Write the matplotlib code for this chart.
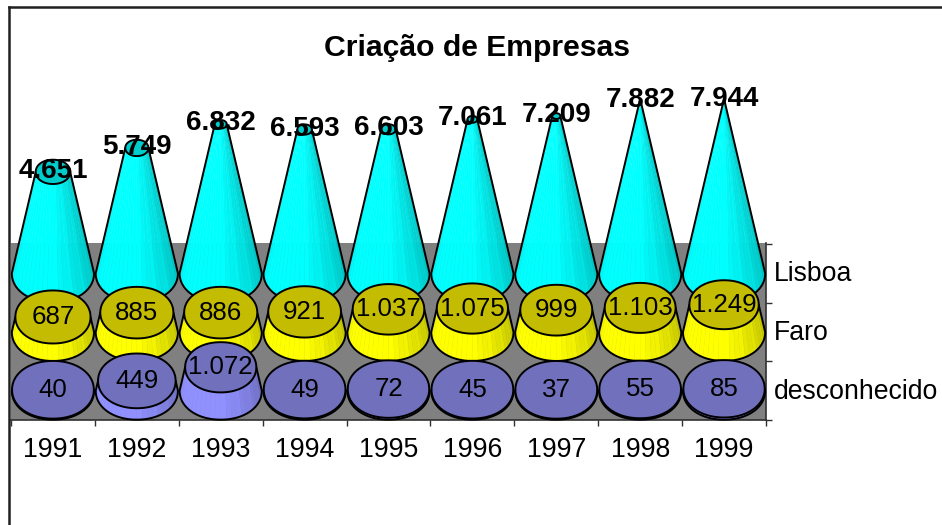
import numpy as np
from matplotlib import pyplot as plt
from matplotlib.colors import to_rgb
from matplotlib.lines import Line2D
from matplotlib.patches import Polygon

plt.rcParams['font.family'] = ['Liberation Sans', 'DejaVu Sans']

years = ['1991', '1992', '1993', '1994', '1995', '1996', '1997', '1998', '1999']
rows = ['desconhecido', 'Faro', 'Lisboa']
lisboa = [4651, 5749, 6832, 6593, 6603, 7061, 7209, 7882, 7944]
faro = [687, 885, 886, 921, 1037, 1075, 999, 1103, 1249]
desconhecido = [40, 449, 1072, 49, 72, 45, 37, 55, 85]
labels_lisboa = ['4.651', '5.749', '6.832', '6.593', '6.603', '7.061', '7.209', '7.882', '7.944']
labels_faro = ['687', '885', '886', '921', '1.037', '1.075', '999', '1.103', '1.249']
labels_desc = ['40', '449', '1.072', '49', '72', '45', '37', '55', '85']

W, H = 942, 525
VMAX = 8000
PX_PER_UNIT = 0.0218
ROW_PX = 58.7
RX = 0.49    # base radius in x categories
RY = 29 / PX_PER_UNIT  # base radius in value units
ROW_H = ROW_PX / PX_PER_UNIT

fig = plt.figure(figsize=(W / 100, H / 100), dpi=100)

# floor of the chart, x in categories, y in value units
ax = fig.add_axes([11 / W, 1 - 420 / H, 755 / W, 177 / H])
ax.set_xlim(0, len(years))
ax.set_ylim(0, 177 / PX_PER_UNIT)
ax.set_facecolor('#808080')
for s in ['left', 'top']:
    ax.spines[s].set_visible(False)
for s in ['right', 'bottom']:
    ax.spines[s].set_color('#303030')
    ax.spines[s].set_linewidth(1.2)
ax.yaxis.tick_right()
ax.set_xticks(np.arange(len(years) + 1))
ax.set_yticks(np.arange(4) * ROW_H)
ax.set_xticklabels([])
ax.set_yticklabels([])
ax.tick_params(length=4.5, width=1, color='#303030')


def ring(t, x, y, rx, ry):
    # slightly squared ellipse, the original blobs are not quite round
    p = 2 / 2.08
    c, s = np.cos(t), np.sin(t)
    return np.column_stack([x + rx * np.sign(c) * np.abs(c) ** p, y + ry * np.sign(s) * np.abs(s) ** p])


def shade(color, f):
    return tuple(np.clip(np.array(to_rgb(color)) * f, 0, 1))


def frustum(x, y0, value, side, top):
    frac = value / VMAX
    rx1 = RX * (1 - frac)
    ry1 = RY * (1 - frac)
    y1 = y0 + value
    # side facets, light on the left, darker to the right
    n = 24
    ang = np.linspace(np.pi, 2 * np.pi, n + 1)
    base = ring(ang, x, y0, RX, RY)
    upper = ring(ang, x, y1, rx1, ry1)
    for i in range(n):
        c = (i + 0.5) / n
        if c < 0.12:
            f = 0.92 + 0.08 * c / 0.12
        elif c < 0.5:
            f = 1.0
        else:
            f = 1.0 - 0.26 * (c - 0.5) / 0.5
        if i % 3 == 0:
            f = min(1.0, f + 0.03)
        pts = [base[i], base[i + 1], upper[i + 1], upper[i]]
        ax.add_patch(Polygon(pts, fc=shade(side, f), ec=shade(side, f), lw=0.3, clip_on=False, zorder=3))
    # silhouette
    t = np.linspace(np.pi, 2 * np.pi, 80)
    outline = np.vstack([ring(t, x, y0, RX, RY), [[x + rx1, y1]], [[x - rx1, y1]]])
    ax.add_patch(Polygon(outline, fill=False, ec='black', lw=1.4, clip_on=False, zorder=3, joinstyle='round'))
    t = np.linspace(0, 2 * np.pi, 80)
    ax.add_patch(Polygon(ring(t, x, y1, rx1, ry1), fc=top, ec='black', lw=1.4, clip_on=False, zorder=3))
    return y1


series = [(lisboa, labels_lisboa, '#00FFFF', '#00CCCC', 2),
          (faro, labels_faro, '#FFFF00', '#C4BC00', 1),
          (desconhecido, labels_desc, '#9090FF', '#7070BC', 0)]

for values, labels, side, top, row in series:
    y0 = (row + 0.5) * ROW_H
    for i, v in enumerate(values):
        y1 = frustum(i + 0.5, y0, v, side, top)
        if row == 2:
            ax.annotate(labels[i], (i + 0.5, y1), xytext=(0, 1), textcoords='offset pixels', ha='center',
                        va='center', fontsize=20, fontweight='bold', color='black', zorder=6,
                        annotation_clip=False)
        else:
            ax.annotate(labels[i], (i + 0.5, y1), ha='center', va='center', fontsize=18.6, color='black',
                        zorder=6, annotation_clip=False)

for i, y in enumerate(years):
    ax.annotate(y, (i + 0.5, 0), xytext=(0, -30), textcoords='offset pixels', ha='center', va='center',
                fontsize=19.2, annotation_clip=False)
for j, r in enumerate(rows):
    ax.annotate(r, (len(years), (j + 0.5) * ROW_H), xytext=(8, -1), textcoords='offset pixels', ha='left',
                va='center', fontsize=19.2, annotation_clip=False)

fig.text(477 / W, 1 - 48 / H, 'Criação de Empresas', ha='center', va='center', fontsize=21.7, fontweight='bold')

# only the top and left edges of the outer frame show
fig.add_artist(Line2D([9 / W, 9 / W], [1 - 7 / H, 0], color='#202020', lw=1.8))
fig.add_artist(Line2D([9 / W, 1], [1 - 7 / H, 1 - 7 / H], color='#202020', lw=1.8))

fig.savefig('out.png', dpi=100)
